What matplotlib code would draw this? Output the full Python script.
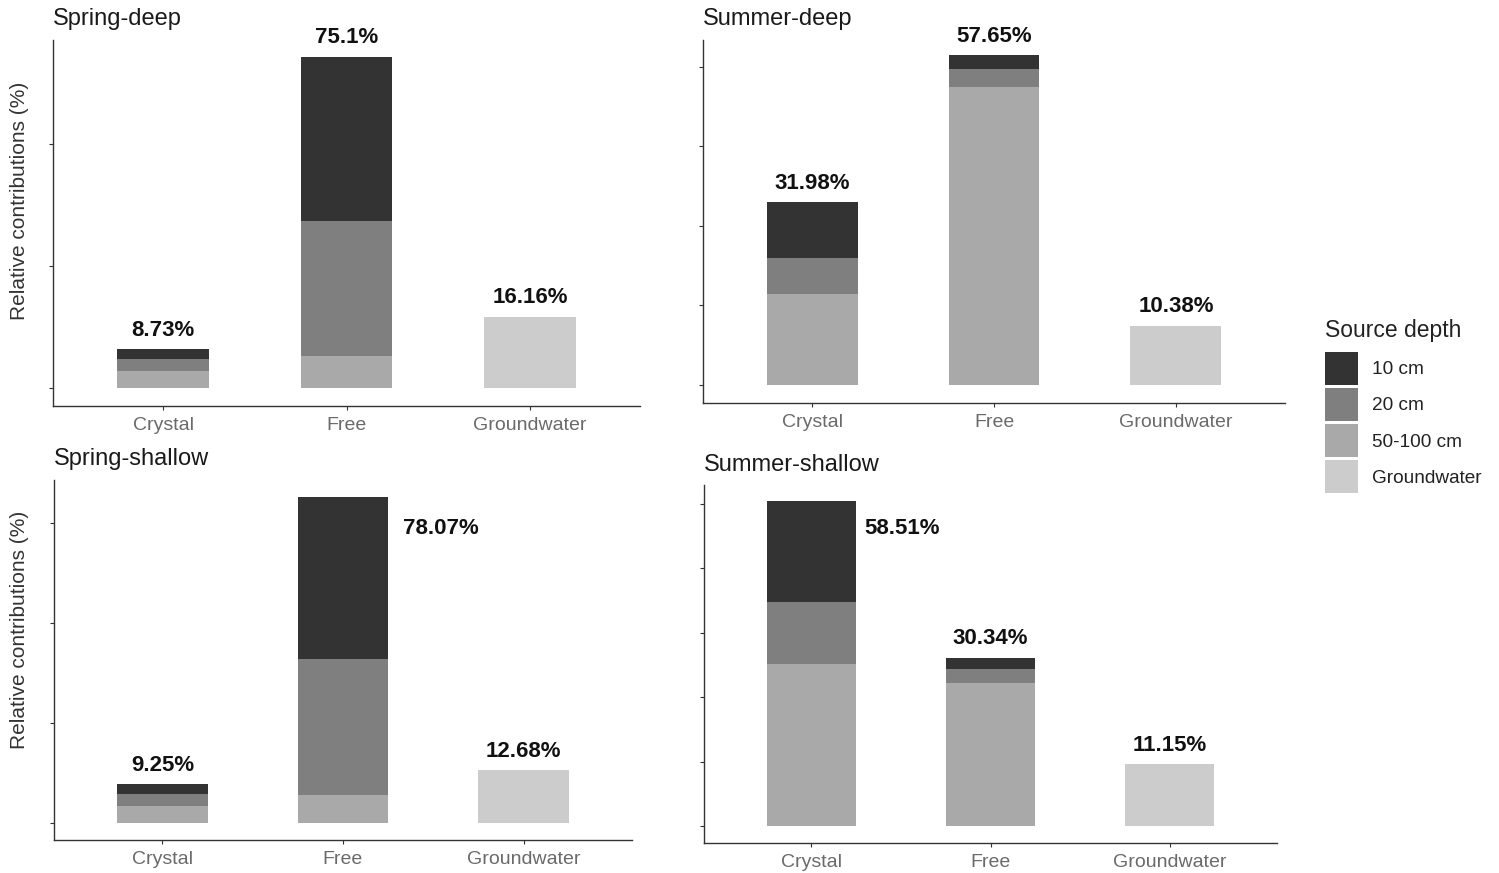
import matplotlib
matplotlib.use("Agg")
import matplotlib.pyplot as plt
from matplotlib.patches import Patch
import numpy as np

plt.rcParams['font.family'] = ['Liberation Sans', 'DejaVu Sans']

categories = ["Crystal", "Free", "Groundwater"]
series_names = ["10 cm", "20 cm", "50-100 cm", "Groundwater"]
series_colors = ["#333333", "#7f7f7f", "#a9a9a9", "#cccccc"]

# Spring-deep
spring_deep_10cm = [2.20, 37.20, 0.0]
spring_deep_20cm = [2.70, 30.60, 0.0]
spring_deep_50_100cm = [3.83, 7.30, 0.0]
spring_deep_gw = [0.0, 0.0, 16.16]
spring_deep_labels = ["8.73%", "75.1%", "16.16%"]

# Summer-deep
summer_deep_10cm = [9.70, 2.50, 0.0]
summer_deep_20cm = [6.30, 3.00, 0.0]
summer_deep_50_100cm = [15.98, 52.15, 0.0]
summer_deep_gw = [0.0, 0.0, 10.38]
summer_deep_labels = ["31.98%", "57.65%", "10.38%"]

# Spring-shallow
spring_shallow_10cm = [2.20, 38.70, 0.0]
spring_shallow_20cm = [2.90, 32.70, 0.0]
spring_shallow_50_100cm = [4.15, 6.67, 0.0]
spring_shallow_gw = [0.0, 0.0, 12.68]
spring_shallow_labels = ["9.25%", "78.07%", "12.68%"]

# Summer-shallow
summer_shallow_10cm = [18.20, 2.10, 0.0]
summer_shallow_20cm = [11.20, 2.50, 0.0]
summer_shallow_50_100cm = [29.11, 25.74, 0.0]
summer_shallow_gw = [0.0, 0.0, 11.15]
summer_shallow_labels = ["58.51%", "30.34%", "11.15%"]

W, H = 1499, 873
fig = plt.figure(figsize=(W / 100, H / 100), dpi=100)

def px_axes(left, top, right, bottom):
    return fig.add_axes([left / W, 1 - bottom / H, (right - left) / W, (bottom - top) / H])

panels = [
    dict(title="Spring-deep", box=(53, 40, 640, 406), ylim=(-4.08, 78.9), tstep=27.66,
         data=[spring_deep_10cm, spring_deep_20cm, spring_deep_50_100cm, spring_deep_gw],
         labels=spring_deep_labels, side={}, ylabel_y=201, title_y=19),
    dict(title="Summer-deep", box=(703, 40, 1285, 403), ylim=(-3.15, 60.3), tstep=13.9,
         data=[summer_deep_10cm, summer_deep_20cm, summer_deep_50_100cm, summer_deep_gw],
         labels=summer_deep_labels, side={}, ylabel_y=None, title_y=19),
    dict(title="Spring-shallow", box=(54, 480, 632, 840), ylim=(-4.07, 82.1), tstep=23.9,
         data=[spring_shallow_10cm, spring_shallow_20cm, spring_shallow_50_100cm, spring_shallow_gw],
         labels=spring_shallow_labels, side={1: (11, -23)}, ylabel_y=630, title_y=459),
    dict(title="Summer-shallow", box=(704, 485, 1277, 843), ylim=(-3.06, 61.4), tstep=11.6,
         data=[summer_shallow_10cm, summer_shallow_20cm, summer_shallow_50_100cm, summer_shallow_gw],
         labels=summer_shallow_labels, side={0: (6, -20)}, ylabel_y=None, title_y=465),
]

x = np.arange(len(categories))
width = 0.5
for p in panels:
    l, t, r, b = p["box"]
    ax = px_axes(l, t, r, b)
    bottom = np.zeros(len(categories))
    # stack from deepest (bottom) to shallowest (top)
    for vals, col in reversed(list(zip(p["data"], series_colors))):
        v = np.array(vals)
        ax.bar(x, v, width, bottom=bottom, color=col, linewidth=0)
        bottom = bottom + v
    tops = bottom
    for i, (xx, top, lab) in enumerate(zip(x, tops, p["labels"])):
        if i in p["side"]:
            dx, dy = p["side"][i]
            ax.annotate(lab, (xx + width / 2, top), xytext=(dx, dy), textcoords="offset points",
                        ha="left", va="center", fontsize=16, fontweight="bold", color="#111111")
        else:
            ax.annotate(lab, (xx, top), xytext=(0, 6), textcoords="offset points",
                        ha="center", va="bottom", fontsize=16, fontweight="bold", color="#111111")
    ax.set_xlim(-0.6, 2.6)
    ax.set_ylim(*p["ylim"])
    ax.set_yticks(np.arange(0, p["ylim"][1], p["tstep"]))
    ax.set_yticklabels([])
    ax.set_xticks(x)
    ax.set_xticklabels(categories, fontsize=14, color="#6a6a6a")
    ax.tick_params(axis="both", length=3, width=0.8, color="#333333", direction="out")
    ax.tick_params(axis="x", pad=5)
    for s in ["top", "right"]:
        ax.spines[s].set_visible(False)
    for s in ["left", "bottom"]:
        ax.spines[s].set_color("#333333")
        ax.spines[s].set_linewidth(1.0)
    fig.text(l / W, 1 - p["title_y"] / H, p["title"], fontsize=17, color="#1a1a1a",
             ha="left", va="center")
    if p["ylabel_y"] is not None:
        fig.text(20 / W, 1 - p["ylabel_y"] / H, "Relative contributions (%)", rotation=90,
                 fontsize=15, color="#333333", ha="center", va="center")

fig.text(1325 / W, 1 - 330 / H, "Source depth", fontsize=16.5, color="#222222",
         ha="left", va="center")
handles = [Patch(facecolor=c, edgecolor="none") for c in series_colors]
leg = fig.legend(handles, series_names, loc="upper left", bbox_to_anchor=(1325 / W, 1 - 352 / H),
                 frameon=False, fontsize=13.7,
                 handlelength=1.74, handleheight=2.28, labelspacing=0.17, handletextpad=0.72,
                 borderpad=0, borderaxespad=0)
for txt in leg.get_texts():
    txt.set_color("#222222")

fig.savefig("out.png", dpi=100)
